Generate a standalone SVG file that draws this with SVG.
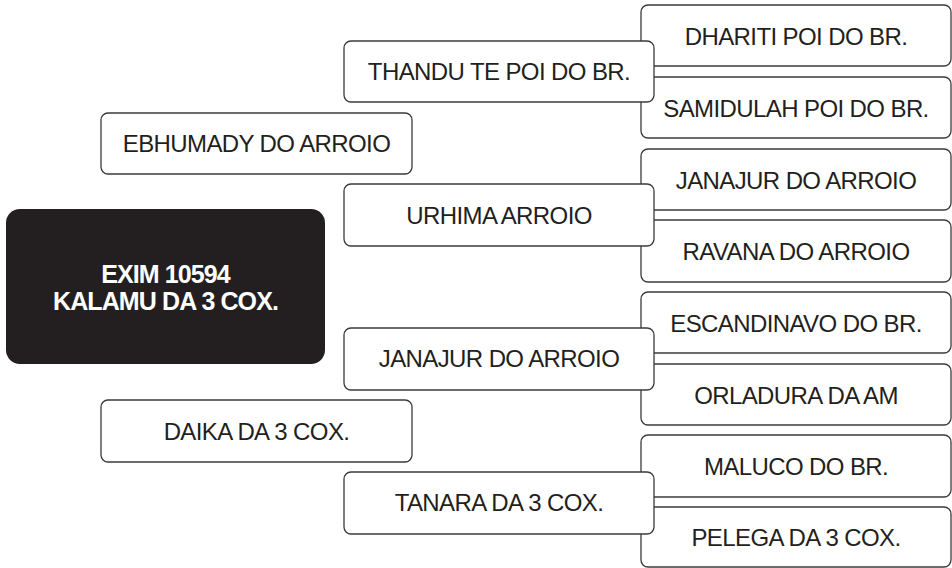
<svg xmlns="http://www.w3.org/2000/svg" width="952" height="568" viewBox="0 0 952 568">
<style>
.box{fill:#ffffff;stroke:#3a3a3a;stroke-width:1.3}
.lbl{font-family:"Liberation Sans",Arial,sans-serif;font-size:24px;letter-spacing:-0.6px;fill:#231f20;text-anchor:middle}
.root{fill:#231f20}
.rootlbl{font-family:"Liberation Sans",Arial,sans-serif;font-size:25px;letter-spacing:-0.9px;font-weight:bold;fill:#ffffff;text-anchor:middle}
</style>
<rect width="952" height="568" fill="#ffffff"/>
<g id="connectors"/>
<g id="n-dhariti"><rect class="box" x="641" y="5" width="310" height="61" rx="7"/><text class="lbl" x="796" y="45">DHARITI POI DO BR.</text></g>
<g id="n-samidulah"><rect class="box" x="641" y="77" width="310" height="61" rx="7"/><text class="lbl" x="796" y="117">SAMIDULAH POI DO BR.</text></g>
<g id="n-janajur-r"><rect class="box" x="641" y="149" width="310" height="61" rx="7"/><text class="lbl" x="796" y="189">JANAJUR DO ARROIO</text></g>
<g id="n-ravana"><rect class="box" x="641" y="220" width="310" height="62" rx="7"/><text class="lbl" x="796" y="260">RAVANA DO ARROIO</text></g>
<g id="n-escandinavo"><rect class="box" x="641" y="292" width="310" height="61" rx="7"/><text class="lbl" x="796" y="332">ESCANDINAVO DO BR.</text></g>
<g id="n-orladura"><rect class="box" x="641" y="364" width="310" height="61" rx="7"/><text class="lbl" x="796" y="404">ORLADURA DA AM</text></g>
<g id="n-maluco"><rect class="box" x="641" y="435" width="310" height="62" rx="7"/><text class="lbl" x="796" y="475">MALUCO DO BR.</text></g>
<g id="n-pelega"><rect class="box" x="641" y="507" width="310" height="60" rx="7"/><text class="lbl" x="796" y="546">PELEGA DA 3 COX.</text></g>
<g id="n-thandu"><rect class="box" x="344" y="41" width="310" height="61" rx="7"/><text class="lbl" x="499" y="80">THANDU TE POI DO BR.</text></g>
<g id="n-urhima"><rect class="box" x="344" y="184" width="310" height="62" rx="7"/><text class="lbl" x="499" y="224">URHIMA ARROIO</text></g>
<g id="n-janajur-m"><rect class="box" x="344" y="328" width="310" height="62" rx="7"/><text class="lbl" x="499" y="367">JANAJUR DO ARROIO</text></g>
<g id="n-tanara"><rect class="box" x="344" y="472" width="310" height="62" rx="7"/><text class="lbl" x="499" y="511">TANARA DA 3 COX.</text></g>
<g id="n-ebhumady"><rect class="box" x="101" y="113" width="311" height="61" rx="7"/><text class="lbl" x="256.5" y="152">EBHUMADY DO ARROIO</text></g>
<g id="n-daika"><rect class="box" x="101" y="400" width="311" height="62" rx="7"/><text class="lbl" x="256.5" y="440">DAIKA DA 3 COX.</text></g>
<g id="n-root"><rect class="root" x="6" y="209" width="319" height="155" rx="14"/><text class="rootlbl" x="165.5" y="283">EXIM 10594</text><text class="rootlbl" x="165.5" y="310">KALAMU DA 3 COX.</text></g>
</svg>
